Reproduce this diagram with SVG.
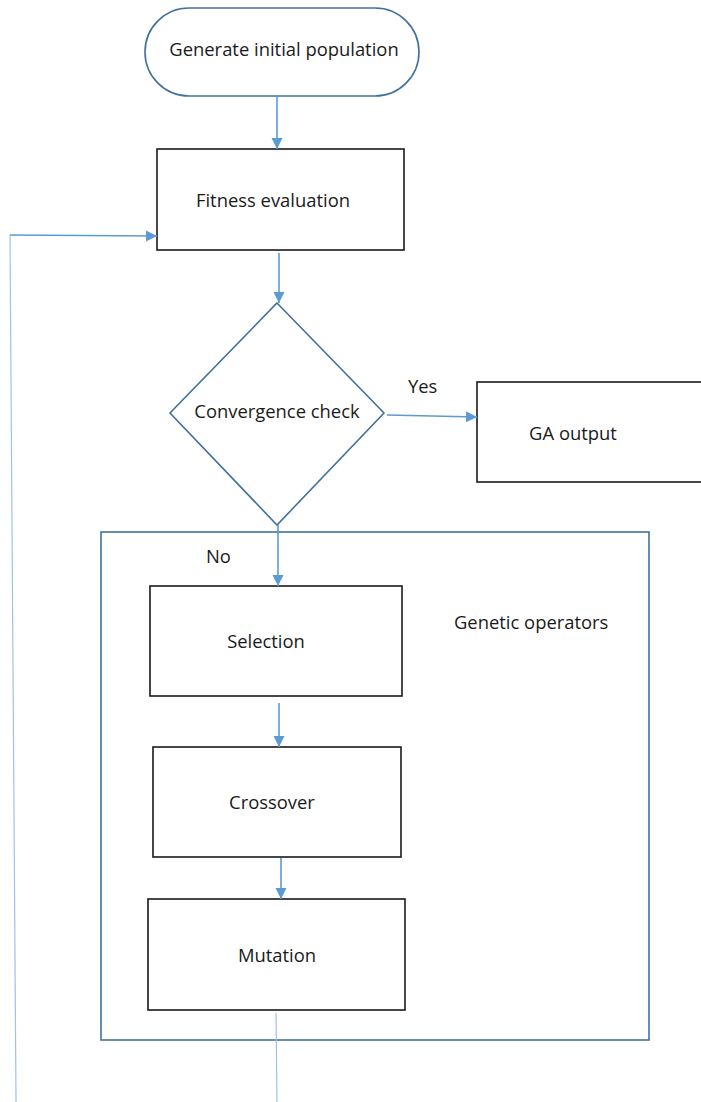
<svg xmlns="http://www.w3.org/2000/svg" width="701" height="1102" viewBox="0 0 701 1102">
<defs>
<marker id="ah" markerWidth="12" markerHeight="12" refX="11" refY="6" orient="auto" markerUnits="userSpaceOnUse">
<path d="M0,0.5 L11,6 L0,11.5 Z" fill="#5B9BD5"/>
</marker>
</defs>
<style>
.t{font-family:"Open Sans","Noto Sans","Liberation Sans",sans-serif;font-size:18.4px;fill:#1a1a1a;text-anchor:middle}
.tl{font-family:"Open Sans","Noto Sans","Liberation Sans",sans-serif;font-size:18.4px;fill:#1a1a1a}
.box{fill:#fff;stroke:#1a1a1a;stroke-width:1.6}
.blue{fill:#fff;stroke:#41719C;stroke-width:1.6}
.arr{stroke:#5B9BD5;stroke-width:1.6;fill:none;marker-end:url(#ah)}
.thin{stroke:#9DC3E6;stroke-width:1.2;fill:none}
</style>
<rect width="701" height="1102" fill="#fff"/>
<g id="genetic-operators">
<rect x="101" y="532" width="548" height="508" fill="none" stroke="#41719C" stroke-width="1.6"/>
<text class="tl" x="454" y="629">Genetic operators</text>
</g>
<g id="start">
<rect class="blue" x="145" y="8" width="274" height="88" rx="44" ry="44"/>
<text class="t" x="284" y="56">Generate initial population</text>
</g>
<g id="fitness">
<rect class="box" x="157" y="149" width="247" height="101"/>
<text class="t" x="273" y="207">Fitness evaluation</text>
</g>
<g id="convergence">
<polygon class="blue" points="277,303 384,413 277,525 170,413"/>
<text class="t" x="277" y="418">Convergence check</text>
</g>
<g id="ga-output">
<rect class="box" x="477" y="382" width="240" height="100"/>
<text class="t" x="573" y="440">GA output</text>
</g>
<g id="selection">
<rect class="box" x="150" y="586" width="252" height="110"/>
<text class="t" x="266" y="648">Selection</text>
</g>
<g id="crossover">
<rect class="box" x="153" y="747" width="248" height="110"/>
<text class="t" x="272" y="809">Crossover</text>
</g>
<g id="mutation">
<rect class="box" x="148" y="899" width="257" height="111"/>
<text class="t" x="277" y="962">Mutation</text>
</g>
<g id="connectors">
<line class="arr" x1="277" y1="96" x2="277" y2="149"/>
<line class="arr" x1="279" y1="253" x2="279" y2="303"/>
<line class="arr" x1="387" y1="415" x2="477" y2="417"/>
<text class="tl" x="408" y="393">Yes</text>
<line class="arr" x1="278" y1="525" x2="278" y2="586"/>
<text class="tl" x="206" y="563">No</text>
<line class="arr" x1="279" y1="703" x2="279" y2="747"/>
<line class="arr" x1="281" y1="858" x2="281" y2="899"/>
<line class="thin" x1="276" y1="1013" x2="277" y2="1102"/>
<polyline class="thin" points="16,1102 10,235"/>
<line class="arr" x1="10" y1="235" x2="157" y2="236"/>
</g>
</svg>
